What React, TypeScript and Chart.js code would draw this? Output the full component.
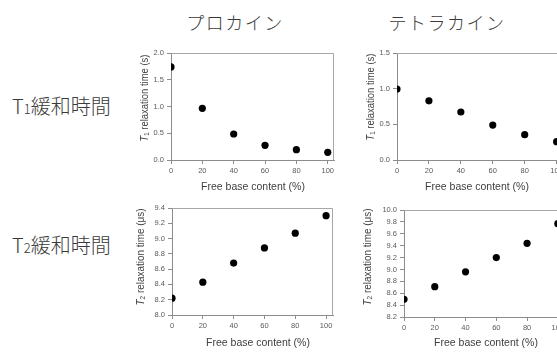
import React, { useEffect, useRef } from "react";
import { Chart, registerables } from "chart.js";

Chart.register(...registerables);

// ---- data ----
const xValues = [0, 20, 40, 60, 80, 100];
const xTicks = [0, 20, 40, 60, 80, 100];
const procaineT1 = [1.74, 0.966, 0.486, 0.275, 0.193, 0.144];
const tetracaineT1 = [0.995, 0.83, 0.673, 0.49, 0.355, 0.257];
const procaineT2 = [8.22, 8.43, 8.68, 8.877, 9.07, 9.3];
const tetracaineT2 = [8.497, 8.71, 8.96, 9.2, 9.44, 9.77];
const t1TicksProcaine = [0.0, 0.5, 1.0, 1.5, 2.0];
const t1TicksTetracaine = [0.0, 0.5, 1.0, 1.5];
const t2TicksProcaine = [8.0, 8.2, 8.4, 8.6, 8.8, 9.0, 9.2, 9.4];
const t2TicksTetracaine = [8.2, 8.4, 8.6, 8.8, 9.0, 9.2, 9.4, 9.6, 9.8, 10.0];
const columnTitles = ["プロカイン", "テトラカイン"];
const rowTitleMain = ["T", "T"];
const rowTitleSub = ["1", "2"];
const rowTitleRest = ["緩和時間", "緩和時間"];
const xAxisTitle = "Free base content (%)";
const yTitleRest = [" relaxation time (s)", " relaxation time (\u03bcs)"];

const SANS = '"Liberation Sans", Arial, sans-serif';
const CJK = '"Noto Sans CJK JP", "Noto Sans", sans-serif';

type PanelProps = {
  left: number;
  top: number;
  width: number;
  height: number;
  area: { l: number; t: number; r: number; b: number };
  xMax: number;
  yTicks: number[];
  values: number[];
  sub: string;
  rest: string;
  yTitleX: number;
  yTitleY: number;
  yTitleLen: number;
  xTitleX: number;
  xTitleY: number;
};

function Panel(p: PanelProps) {
  const ref = useRef<HTMLCanvasElement | null>(null);
  useEffect(() => {
    if (!ref.current) return;
    const yAxisW = p.area.l - p.left;
    const xAxisH = p.top + p.height - p.area.b;
    const textPlugin = {
      id: "panelText",
      afterDraw(chart: any) {
        const ctx = chart.ctx as CanvasRenderingContext2D;
        const ca = chart.chartArea;
        ctx.save();
        // plot border
        ctx.strokeStyle = "#a8a8a8";
        ctx.lineWidth = 1;
        ctx.beginPath();
        ctx.moveTo(Math.round(ca.left) + 0.5, Math.round(ca.top) + 0.5);
        ctx.lineTo(Math.round(ca.right) - 0.5, Math.round(ca.top) + 0.5);
        ctx.lineTo(Math.round(ca.right) - 0.5, Math.round(ca.bottom) + 0.5);
        ctx.stroke();
        // x title
        ctx.fillStyle = "#404040";
        ctx.font = `10.5px ${SANS}`;
        ctx.textAlign = "center";
        ctx.textBaseline = "middle";
        ctx.fillText(xAxisTitle, p.xTitleX - p.left, p.xTitleY - p.top);
        // y title (rotated, mixed fonts)
        const parts = [
          { t: "T", f: `italic 11.5px ${SANS}`, dy: 0 },
          { t: p.sub, f: `7.5px ${SANS}`, dy: 2 },
          { t: p.rest, f: `11.5px ${SANS}`, dy: 0 },
        ];
        let total = 0;
        const widths = parts.map((pt) => {
          ctx.font = pt.f;
          const w = ctx.measureText(pt.t).width;
          total += w;
          return w;
        });
        ctx.translate(p.yTitleX - p.left, p.yTitleY - p.top);
        ctx.rotate(-Math.PI / 2);
        ctx.scale(p.yTitleLen / total, 1);
        ctx.textAlign = "left";
        ctx.textBaseline = "middle";
        let x = -total / 2;
        parts.forEach((pt, i) => {
          ctx.font = pt.f;
          ctx.fillText(pt.t, x, pt.dy);
          x += widths[i];
        });
        ctx.restore();
      },
    };
    const chart = new Chart(ref.current, {
      type: "scatter",
      data: {
        datasets: [
          {
            data: xValues.map((x, i) => ({ x, y: p.values[i] })),
            backgroundColor: "#000",
            borderColor: "#000",
            pointRadius: 3.6,
            pointHoverRadius: 3.6,
            borderWidth: 0,
            showLine: false,
          },
        ],
      },
      options: {
        animation: false,
        responsive: false,
        events: [],
        layout: {
          padding: {
            left: 0,
            top: p.area.t - p.top,
            right: p.left + p.width - p.area.r,
            bottom: 0,
          },
        },
        plugins: {
          legend: { display: false },
          tooltip: { enabled: false },
          title: { display: false },
        },
        scales: {
          x: {
            type: "linear",
            min: 0,
            max: p.xMax,
            afterBuildTicks: (s: any) => {
              s.ticks = xTicks.map((v) => ({ value: v }));
            },
            afterFit: (s: any) => {
              s.height = xAxisH;
            },
            grid: {
              display: true,
              drawOnChartArea: false,
              drawTicks: true,
              tickLength: 4,
              color: "#8c8c8c",
            },
            border: { display: true, color: "#8c8c8c", width: 1 },
            ticks: {
              padding: 2,
              color: "#595959",
              font: { family: SANS, size: 7.5 },
              maxRotation: 0,
              autoSkip: false,
              callback: (v: any) => String(v),
            },
          },
          y: {
            type: "linear",
            min: p.yTicks[0],
            max: p.yTicks[p.yTicks.length - 1],
            afterBuildTicks: (s: any) => {
              s.ticks = p.yTicks.map((v) => ({ value: v }));
            },
            afterFit: (s: any) => {
              s.width = yAxisW;
            },
            grid: {
              display: true,
              drawOnChartArea: false,
              drawTicks: true,
              tickLength: 4,
              color: "#8c8c8c",
            },
            border: { display: true, color: "#8c8c8c", width: 1 },
            ticks: {
              padding: 3,
              color: "#595959",
              font: { family: SANS, size: 7.5 },
              autoSkip: false,
              callback: (v: any) => Number(v).toFixed(1),
            },
          },
        },
      },
      plugins: [textPlugin],
    } as any);
    return () => chart.destroy();
  }, []);
  return (
    <canvas
      ref={ref}
      width={p.width}
      height={p.height}
      style={{ position: "absolute", left: p.left, top: p.top, width: p.width, height: p.height }}
    />
  );
}

export default function App() {
  const colCenters = [235, 447];
  const rowCenters = [106, 245];
  return (
    <div
      style={{
        position: "absolute",
        left: 0,
        top: 0,
        width: 557,
        height: 352,
        overflow: "hidden",
        background: "#fff",
      }}
    >
      {columnTitles.map((t, i) => (
        <div
          key={"c" + i}
          style={{
            position: "absolute",
            left: colCenters[i] - 100,
            top: 22 - 13,
            width: 200,
            height: 26,
            lineHeight: "26px",
            textAlign: "center",
            fontFamily: CJK,
            fontSize: 18,
            fontWeight: 300,
            letterSpacing: 1.5,
            color: "#3a3a3a",
          }}
        >
          {t}
        </div>
      ))}
      {rowTitleMain.map((t, i) => (
        <div
          key={"r" + i}
          style={{
            position: "absolute",
            left: 12,
            top: rowCenters[i] - 14,
            height: 28,
            lineHeight: "28px",
            whiteSpace: "nowrap",
            fontFamily: CJK,
            fontSize: 20,
            fontWeight: 300,
            color: "#3a3a3a",
          }}
        >
          {t}
          <span style={{ fontSize: 13 }}>{rowTitleSub[i]}</span>
          {rowTitleRest[i]}
        </div>
      ))}
      <Panel
        left={130}
        top={40}
        width={210}
        height={160}
        area={{ l: 171, t: 53, r: 334, b: 160 }}
        xMax={104}
        yTicks={t1TicksProcaine}
        values={procaineT1}
        sub={rowTitleSub[0]}
        rest={yTitleRest[0]}
        yTitleX={145}
        yTitleY={98}
        yTitleLen={87}
        xTitleX={253}
        xTitleY={187}
      />
      <Panel
        left={357}
        top={40}
        width={220}
        height={160}
        area={{ l: 397, t: 53, r: 563, b: 160 }}
        xMax={104}
        yTicks={t1TicksTetracaine}
        values={tetracaineT1}
        sub={rowTitleSub[0]}
        rest={yTitleRest[0]}
        yTitleX={371}
        yTitleY={97}
        yTitleLen={87}
        xTitleX={477}
        xTitleY={187}
      />
      <Panel
        left={130}
        top={195}
        width={210}
        height={157}
        area={{ l: 172, t: 208, r: 333, b: 315 }}
        xMax={104.5}
        yTicks={t2TicksProcaine}
        values={procaineT2}
        sub={rowTitleSub[1]}
        rest={yTitleRest[1]}
        yTitleX={141}
        yTitleY={257}
        yTitleLen={97}
        xTitleX={258}
        xTitleY={343}
      />
      <Panel
        left={357}
        top={195}
        width={220}
        height={157}
        area={{ l: 404, t: 210, r: 564, b: 317 }}
        xMax={104}
        yTicks={t2TicksTetracaine}
        values={tetracaineT2}
        sub={rowTitleSub[1]}
        rest={yTitleRest[1]}
        yTitleX={368}
        yTitleY={257}
        yTitleLen={97}
        xTitleX={486}
        xTitleY={343}
      />
    </div>
  );
}
